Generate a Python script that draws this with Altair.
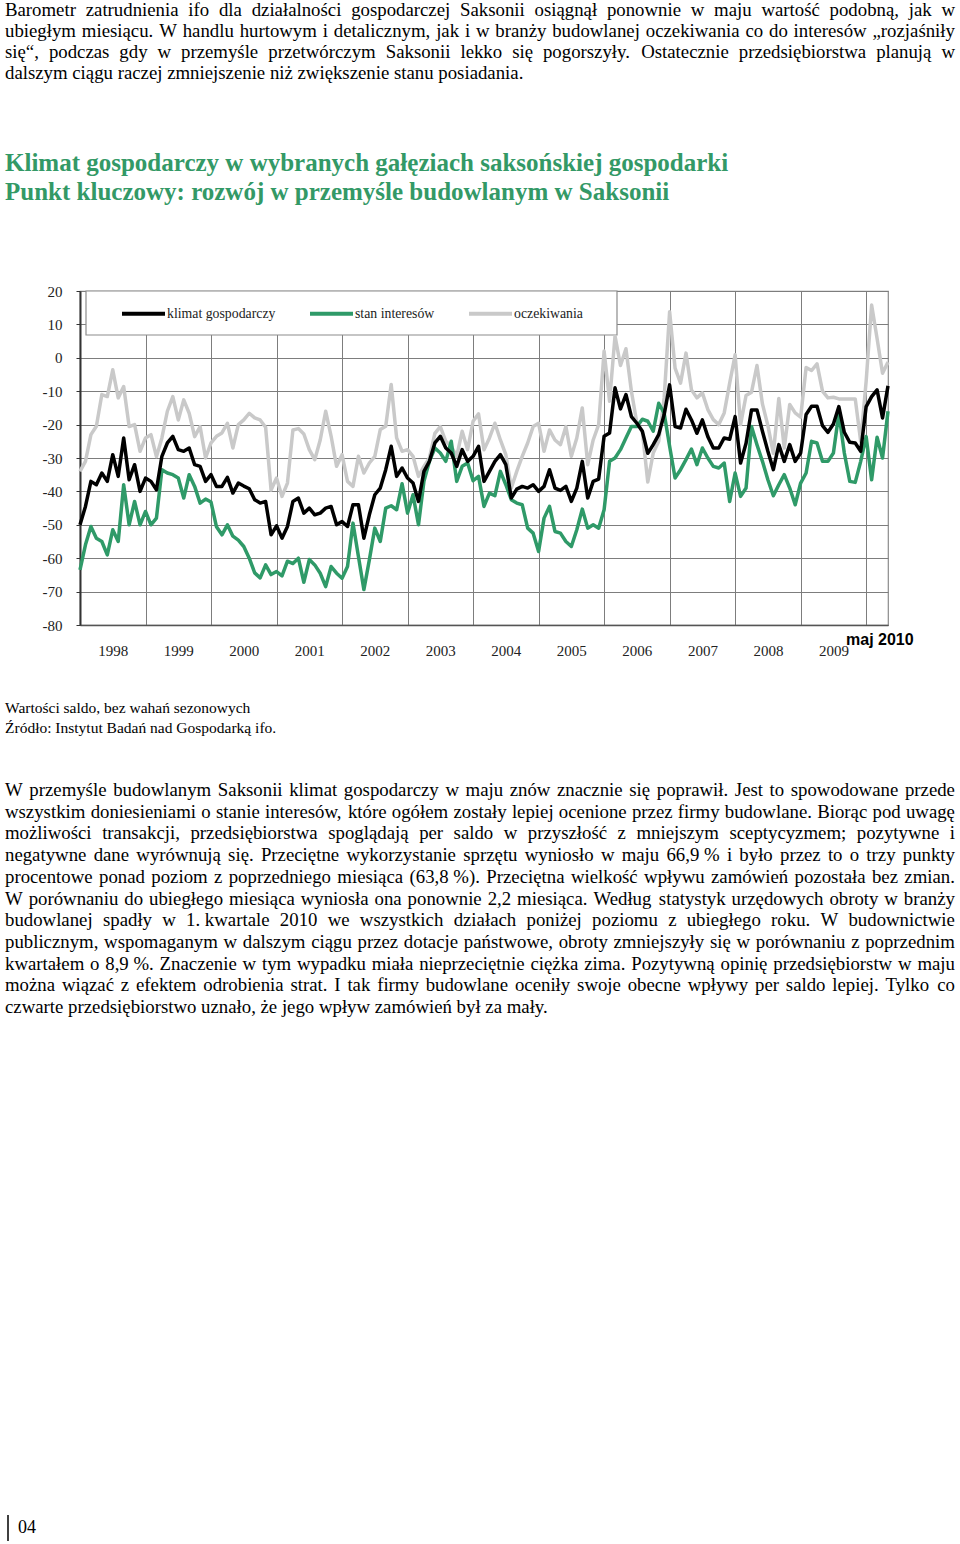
import altair as alt
import pandas as pd

# ---------------- data ----------------
series_names = ["klimat gospodarczy", "stan interesów", "oczekiwania"]
series_colors = ["#000000", "#2f9a68", "#c9c9c9"]

first_year = 1998
n_months = 149  # Jan 1998 .. May 2010
year_ticks = list(range(1998, 2011))
y_ticks = list(range(-80, 21, 10))

klimat = [
    -50, -44.5, -37, -38, -34.5, -37, -29, -35.5, -24, -36.5, -32, -40,
    -36, -37, -39.5, -29.5, -25.5, -23.5, -27.5, -28, -27, -32, -32.5, -37,
    -35, -38.5, -38.5, -35.8, -40.5, -37.5, -38.4, -39.2, -42.5, -43.5, -43, -53,
    -50.3, -54, -50.5, -43, -42, -46.5, -45, -47, -46.5, -45, -44.5, -50,
    -49, -50.5, -44, -44, -54, -47, -41, -39, -33.5, -26.5, -35.5, -33,
    -36, -37.5, -43, -34, -31, -25.5, -23.5, -27, -28.5, -32.5, -27.5, -31,
    -29.5, -26.5, -37, -34, -31, -29, -32, -42, -39.3, -38.5, -39, -38,
    -40, -38.5, -33.5, -39, -39.7, -38.5, -43, -39, -31, -42, -37, -36.3,
    -23.5, -22.5, -9, -15.3, -11, -17.6, -19.6, -22, -28.6, -26, -23, -17,
    -8.1, -20.6, -21, -15.4, -18.6, -22.6, -18.6, -23.6, -27, -27, -24, -24.4,
    -17.6, -31.5, -25.6, -15.6, -15.6, -22, -28, -33.5, -26, -31, -26, -31,
    -28.5, -17, -14.5, -14.5, -20.3, -22.3, -19.8, -14.6, -22.3, -25.3, -25.5, -28,
    -14.6, -11.6, -9.6, -18, -8.4,
]

stan = [
    -63.5, -56, -50.5, -54, -55, -59, -51.5, -55, -38, -50, -43, -50,
    -46, -50, -48, -33.5, -34.5, -35, -36, -42, -35, -38.5, -43.5, -42.3,
    -43.2, -50.6, -53, -50, -53.4, -54.6, -56.5, -60, -64.4, -65.9, -62, -64.9,
    -64, -65.3, -60.9, -61.6, -60, -67.2, -60.4, -62, -64.5, -68.5, -62.5, -64.5,
    -66, -62.5, -49.5, -59.5, -69.4, -60.5, -51, -55, -45, -44.3, -45.5, -37.7,
    -46.5, -41, -50, -37, -31, -27, -28.5, -31, -25, -37, -32.5, -31.5,
    -36.8, -35.5, -44.5, -40.5, -41.3, -34, -38, -42.5, -43.5, -44, -51, -52.5,
    -58, -48, -44.5, -52, -52.5, -55, -56.5, -51.5, -45.3, -51, -50, -51,
    -45.5, -31, -30, -27.5, -24, -20.6, -20.6, -18.4, -19, -22, -13.6, -16.6,
    -26.5, -36, -33.5, -30.5, -27.3, -32, -27, -30, -32.5, -33, -31.5, -43,
    -34.5, -41.5, -39, -20.6, -26, -31, -36.5, -41.3, -38, -35, -39, -44,
    -37.5, -34.5, -25, -25.5, -31, -31, -28.5, -16.6, -28.5, -37, -37.3, -31,
    -23.6, -36.5, -23.8, -30, -16,
]

oczekiwania = [
    -34, -31, -23, -20.5, -11, -11.6, -3.6, -12, -8.6, -20.6, -20, -28,
    -24, -23, -29.6, -24, -16, -11.6, -18.6, -12.6, -16.6, -23.6, -20.6, -30,
    -25.5, -23.5, -22.5, -19.6, -27, -20, -18.6, -16.6, -18, -18.6, -20.8, -39.6,
    -36, -41.5, -37.5, -21.6, -21.2, -22.8, -27.5, -30.5, -24.6, -16, -23.5, -32.5,
    -29, -37, -38.5, -29.5, -34.5, -31.5, -29.5, -21.5, -20.5, -8, -24, -28,
    -27.5, -29.5, -35.5, -32.5, -30, -22.6, -20.6, -25, -26.5, -29.5, -22, -27.5,
    -19, -16.8, -27.5, -24, -19.6, -24.6, -29, -39, -34, -29.5, -25.5, -20.6,
    -19.6, -28, -21.6, -24.6, -26, -20.6, -29.5, -24, -15, -32, -24.6, -20,
    2, -13, 6.5, -2.3, 2.7, -10, -19.5, -22, -37.2, -28.5, -25, -12,
    13.8, -3.1, -7.6, 1.4, -9.6, -12, -10.5, -15.5, -18.5, -20, -16.5, -7.6,
    0.9, -20, -11.3, -10.3, -2.3, -13.8, -20.3, -28.6, -12.2, -27, -14, -16.5,
    -17.8, -2.9, -3.8, -1.8, -10, -12, -11.8, -12.3, -12.3, -12.3, -12.3, -25,
    -7, 15.8, 5.8, -4.6, -1.3,
]

para1_lines = [
    "Barometr zatrudnienia ifo dla działalności gospodarczej Saksonii osiągnął ponownie w maju wartość podobną, jak w",
    "ubiegłym miesiącu. W handlu hurtowym i detalicznym, jak i w branży budowlanej oczekiwania co do interesów „rozjaśniły",
    "się“, podczas gdy w przemyśle przetwórczym Saksonii lekko się pogorszyły. Ostatecznie przedsiębiorstwa planują w",
    "dalszym ciągu raczej  zmniejszenie niż zwiększenie stanu posiadania.",
]

title_lines = [
    "Klimat gospodarczy w wybranych gałęziach saksońskiej gospodarki",
    "Punkt kluczowy: rozwój w przemyśle budowlanym w Saksonii",
]

note_lines = [
    "Wartości saldo, bez wahań sezonowych",
    "Źródło: Instytut Badań nad Gospodarką ifo.",
]

para2_lines = [
    "W przemyśle budowlanym Saksonii klimat gospodarczy w maju znów znacznie się poprawił. Jest to spowodowane przede",
    "wszystkim doniesieniami o stanie interesów, które ogółem zostały lepiej ocenione przez firmy budowlane. Biorąc pod uwagę",
    "możliwości transakcji, przedsiębiorstwa spoglądają per saldo w przyszłość z mniejszym sceptycyzmem; pozytywne i",
    "negatywne dane wyrównują się. Przeciętne wykorzystanie sprzętu wyniosło w maju 66,9\u00a0% i było przez to o trzy punkty",
    "procentowe ponad poziom z poprzedniego miesiąca (63,8\u00a0%). Przeciętna wielkość wpływu zamówień pozostała bez zmian.",
    "W porównaniu do ubiegłego miesiąca wyniosła ona ponownie 2,2 miesiąca. Według statystyk urzędowych obroty w branży",
    "budowlanej spadły w 1.\u00a0kwartale 2010 we wszystkich działach poniżej poziomu z ubiegłego roku. W budownictwie",
    "publicznym, wspomaganym w dalszym ciągu przez dotacje państwowe, obroty zmniejszyły się w porównaniu z poprzednim",
    "kwartałem o 8,9\u00a0%. Znaczenie w tym wypadku miała nieprzeciętnie ciężka zima. Pozytywną opinię przedsiębiorstw w maju",
    "można wiązać z efektem odrobienia strat. I tak firmy budowlane oceniły swoje obecne wpływy per saldo lepiej. Tylko co",
    "czwarte przedsiębiorstwo uznało, że jego wpływ zamówień był za mały.",
]

marker_label = "maj 2010"
page_number = "04"

# ---------------- layout helpers ----------------
PLOT_X0, PLOT_Y0 = 80, 291          # page position of plot origin
PLOT_W, PLOT_H = 808, 334
PAGE_W, PAGE_H = 960, 1544

# Times / Liberation Serif advance widths (per 1000 em)
_base = {
    " ": 250, "\u00a0": 250, "a": 444, "b": 500, "c": 444, "d": 500, "e": 444, "f": 333,
    "g": 500, "h": 500, "i": 278, "j": 278, "k": 500, "l": 278, "m": 778, "n": 500,
    "o": 500, "p": 500, "q": 500, "r": 333, "s": 389, "t": 278, "u": 500, "v": 500,
    "w": 722, "x": 500, "y": 500, "z": 444,
    "A": 722, "B": 667, "C": 667, "D": 722, "E": 611, "F": 556, "G": 722, "H": 722,
    "I": 333, "J": 389, "K": 722, "L": 611, "M": 889, "N": 722, "O": 722, "P": 556,
    "Q": 722, "R": 667, "S": 556, "T": 611, "U": 722, "V": 722, "W": 944, "X": 722,
    "Y": 722, "Z": 611, ".": 250, ",": 250, ":": 278, ";": 278, "(": 333, ")": 333,
    "%": 833, "-": 333, "„": 444, "“": 444, "”": 444,
}
for d in "0123456789":
    _base[d] = 500
for acc, plain in {"ą": "a", "ć": "c", "ę": "e", "ł": "l", "ń": "n", "ó": "o", "ś": "s",
                   "ź": "z", "ż": "z", "Ź": "Z", "Ż": "Z", "Ś": "S", "Ł": "L"}.items():
    _base[acc] = _base[plain]


def text_width(s, fs):
    return sum(_base.get(ch, 500) for ch in s) * fs / 1000.0


def place_paragraph(lines, x_left, x_right, y_first, line_step, fs):
    rows = []
    for k, line in enumerate(lines):
        y = y_first + k * line_step
        if k == len(lines) - 1:
            rows.append({"px": x_left - PLOT_X0, "py": y - PLOT_Y0, "txt": line.replace("\u00a0", " ")})
            continue
        words = line.split(" ")
        widths = [text_width(w, fs) for w in words]
        gap = (x_right - x_left - sum(widths)) / (len(words) - 1)
        x = x_left
        for w, wd in zip(words, widths):
            rows.append({"px": x - PLOT_X0, "py": y - PLOT_Y0, "txt": w.replace("\u00a0", " ")})
            x += wd + gap
    return rows


def place_block(lines, x_left, y_first, line_step):
    return [{"px": x_left - PLOT_X0, "py": y_first + k * line_step - PLOT_Y0, "txt": t}
            for k, t in enumerate(lines)]


BODY_FS = 18.8
body_rows = place_paragraph(para1_lines, 5, 955, 9.5, 21.3, BODY_FS)
body_rows += place_paragraph(para2_lines, 5, 955, 790, 21.7, BODY_FS)
body_df = pd.DataFrame(body_rows)
title_df = pd.DataFrame(place_block(title_lines, 5, 163, 29))
note_df = pd.DataFrame(place_block(note_lines, 5, 708, 19.5))
marker_df = pd.DataFrame(place_block([marker_label], 846, 640, 0))
page_df = pd.DataFrame(place_block([page_number], 18, 1528, 0))

# ---------------- series table ----------------
t_vals = [first_year + i / 12 for i in range(n_months)]
rows = []
for name, vals in zip(series_names, [klimat, stan, oczekiwania]):
    assert len(vals) == n_months
    for t, v in zip(t_vals, vals):
        rows.append({"t": t, "v": v, "series": name})
df = pd.DataFrame(rows)

x_scale = alt.Scale(domain=[first_year, t_vals[-1]], nice=False, zero=False)
y_scale = alt.Scale(domain=[-80, 20], nice=False, zero=False)
year_px = PLOT_W / ((t_vals[-1] - first_year))

x_axis = alt.Axis(
    values=year_ticks, title=None, grid=True, gridColor="#7d7d7d", gridWidth=1,
    ticks=False, domainColor="#555555", domainWidth=1.5,
    labelExpr="datum.value >= 2010 ? '' : '' + datum.value",
    labelOffset=year_px / 2, labelPadding=18, labelFont="Liberation Serif",
    labelFontSize=15, labelColor="#222222", labelOverlap=False, labelFlush=False,
    labelBound=False,
)
y_axis = alt.Axis(
    values=y_ticks, title=None, grid=True, gridColor="#7d7d7d", gridWidth=1,
    ticks=True, tickSize=4, tickColor="#333333", domainColor="#333333", domainWidth=2,
    labelExpr="'' + datum.value", labelPadding=14, labelFont="Liberation Serif",
    labelFontSize=15, labelColor="#222222",
)

color = alt.Color(
    "series:N",
    scale=alt.Scale(domain=series_names, range=series_colors),
    legend=alt.Legend(
        title=None, orient="none", legendX=40, legendY=-1, direction="horizontal",
        symbolType="stroke", symbolSize=1849, symbolStrokeWidth=4, padding=0,
        labelFont="Liberation Serif", labelFontSize=13.8, labelColor="#222222",
        labelOffset=0, columnPadding=26,
    ),
)


def series_layer(name):
    return (
        alt.Chart(df)
        .transform_filter(alt.datum.series == name)
        .mark_line(strokeWidth=3.5, strokeJoin="round")
        .encode(
            x=alt.X("t:Q", scale=x_scale, axis=x_axis),
            y=alt.Y("v:Q", scale=y_scale, axis=y_axis),
            color=color,
        )
    )


legend_box = alt.Chart(pd.DataFrame({"k": [0]})).mark_rect(
    fill="white", stroke="#8c8c8c", strokeWidth=1.2
).encode(x=alt.value(6), x2=alt.value(537), y=alt.value(0), y2=alt.value(44))


def text_layer(data, **style):
    return alt.Chart(data).mark_text(align="left", baseline="middle", **style).encode(
        x=alt.X("px:Q", scale=None, axis=None),
        y=alt.Y("py:Q", scale=None, axis=None),
        text="txt:N",
    )


body = text_layer(body_df, font="Liberation Serif", fontSize=BODY_FS, color="#000000")
titles = text_layer(title_df, font="Liberation Serif", fontSize=25, fontWeight="bold", color="#339966")
notes = text_layer(note_df, font="Liberation Serif", fontSize=15.5, color="#000000")
marker = text_layer(marker_df, font="Liberation Sans", fontSize=16, fontWeight="bold", color="#000000")
page_no = text_layer(page_df, font="Liberation Serif", fontSize=18, color="#000000")
page_bar = alt.Chart(pd.DataFrame({"k": [0]})).mark_rule(color="#000000", strokeWidth=1.5).encode(
    x=alt.value(8 - PLOT_X0), y=alt.value(1515 - PLOT_Y0), y2=alt.value(1541 - PLOT_Y0)
)

chart = (
    alt.layer(
        legend_box,
        series_layer("oczekiwania"),
        series_layer("stan interesów"),
        series_layer("klimat gospodarczy"),
        body, titles, notes, marker, page_no, page_bar,
    )
    .properties(
        width=PLOT_W,
        height=PLOT_H,
        autosize=alt.AutoSizeParams(type="none"),
        padding={"left": PLOT_X0, "top": PLOT_Y0,
                 "right": PAGE_W - PLOT_X0 - PLOT_W, "bottom": PAGE_H - PLOT_Y0 - PLOT_H},
        background="white",
    )
    .configure_view(stroke="#8a8a8a", strokeWidth=1.2)
)

chart.save("out.html", embed_options={"renderer": "svg", "actions": False})
